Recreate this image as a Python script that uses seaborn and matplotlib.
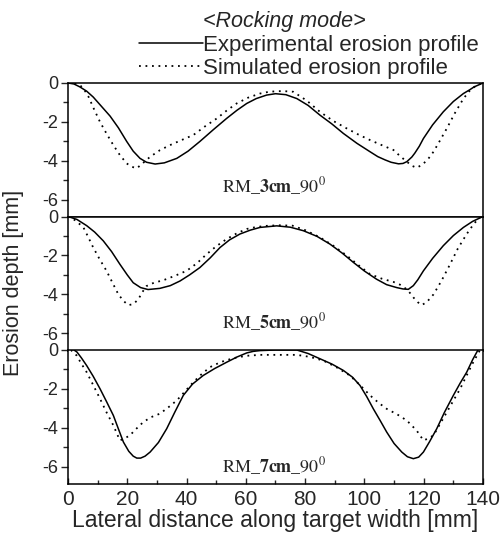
import numpy as np
import matplotlib
matplotlib.use('Agg')
import matplotlib.pyplot as plt
from matplotlib.ticker import MultipleLocator
import seaborn as sns

# erosion profiles, x in mm, depth in mm
# RM_3cm
exp3_x = [0, 2, 4, 6.3, 8.5, 11, 14.2, 17, 19.8, 22, 24.3, 26.5, 29.4, 32.5, 36.7, 40.5, 44.5, 49,
          53.5, 57, 60.3, 63.5, 67, 70, 73.5, 77.2, 81, 85, 89, 92.9, 97.5, 101.9, 104.5, 107, 109,
          111.5, 113, 114.3, 116, 117, 118.5, 119.9, 123, 126.6, 130, 133.4, 135.5, 137, 140]
exp3_y = [0, -0.05, -0.2, -0.42, -0.72, -1.15, -1.7, -2.3, -3.0, -3.5, -3.87, -4.07, -4.16, -4.1,
          -3.87, -3.5, -3.0, -2.4, -1.82, -1.4, -1.05, -0.8, -0.62, -0.55, -0.6, -0.8, -1.15, -1.65,
          -2.1, -2.59, -3.1, -3.53, -3.78, -3.95, -4.07, -4.15, -4.13, -4.04, -3.8, -3.6, -3.25,
          -2.85, -2.15, -1.48, -0.95, -0.54, -0.35, -0.2, 0]
sim3_x = [0, 2, 4, 5.5, 6.9, 8.8, 10.8, 13, 15.3, 17.5, 19.8, 21.5, 23.2, 25, 27.7, 31, 34.4, 38,
          42.3, 46, 50.2, 53.5, 56.9, 60.8, 64.8, 67.5, 70.4, 73, 76, 80.5, 85, 89.5, 94, 98, 101.9,
          106, 109.8, 112, 114.3, 116, 117.6, 119.5, 121.5, 123.3, 125.5, 127.8, 130.5, 133.4,
          135.5, 137.9, 140]
sim3_y = [0, -0.02, -0.1, -0.35, -0.7, -1.35, -2.0, -2.6, -3.19, -3.7, -4.13, -4.3, -4.38, -4.15,
          -3.79, -3.45, -3.19, -2.95, -2.67, -2.25, -1.82, -1.42, -1.05, -0.75, -0.54, -0.46, -0.42,
          -0.42, -0.45, -0.9, -1.48, -1.95, -2.33, -2.65, -2.93, -3.2, -3.44, -3.75, -4.04, -4.25,
          -4.35, -4.2, -3.9, -3.53, -2.95, -2.33, -1.55, -0.8, -0.4, -0.1, 0]

# RM_5cm
exp5_x = [0, 3, 6.3, 9, 11.9, 14.7, 17.5, 20, 22, 24.5, 27, 31, 34.5, 37.8, 41, 44.5, 48, 51.3,
          54.5, 58, 61.5, 64.8, 70.4, 75, 79.4, 84, 88.4, 92.5, 96.3, 100, 104.1, 107.5, 110.9, 113,
          114.8, 116.5, 118, 119.9, 123, 126.6, 130, 133.4, 136.5, 140]
exp5_y = [0, -0.15, -0.47, -0.8, -1.25, -1.8, -2.45, -3.0, -3.4, -3.65, -3.75, -3.69, -3.55, -3.31,
          -3.0, -2.62, -2.12, -1.59, -1.2, -0.9, -0.7, -0.56, -0.48, -0.55, -0.73, -1.02, -1.42,
          -1.88, -2.36, -2.8, -3.22, -3.5, -3.65, -3.72, -3.74, -3.55, -3.25, -2.79, -2.15, -1.5,
          -0.98, -0.56, -0.25, 0]
sim5_x = [0, 2.5, 5.2, 6.8, 8.5, 10.7, 13, 15, 17, 18.8, 20.4, 22, 23.7, 25, 26.5, 29, 32.2, 36, 40,
          43.5, 46.8, 50, 53.5, 57, 60.3, 63.5, 67, 71, 75.7, 80, 85, 89.5, 94, 98, 101.9, 106, 109.8,
          112, 114.3, 115.5, 116.6, 118, 119.3, 121, 123.3, 126, 128.9, 131.5, 134.5, 136.8, 138.8,
          140]
sim5_y = [0, -0.2, -0.56, -1.05, -1.59, -2.2, -2.79, -3.4, -4.0, -4.35, -4.55, -4.5, -4.26, -3.9,
          -3.57, -3.4, -3.27, -3.05, -2.79, -2.4, -1.93, -1.53, -1.16, -0.86, -0.64, -0.54, -0.48,
          -0.45, -0.47, -0.7, -1.07, -1.5, -2.0, -2.5, -2.96, -3.2, -3.36, -3.5, -3.74, -3.95, -4.17,
          -4.4, -4.55, -4.4, -4.0, -3.3, -2.45, -1.65, -0.9, -0.4, -0.05, 0]

# RM_7cm
exp7_x = [2, 3, 4.5, 6.3, 8.5, 10.8, 13, 15.3, 17, 18.7, 20.5, 22, 23.2, 24.5, 26, 27.7, 30.5, 33.3,
          36, 38.9, 42, 45.6, 49.5, 53.5, 57, 60.3, 62.5, 64.8, 70, 77.2, 81, 85, 89, 92.9, 96, 98.5,
          100.8, 103, 105.3, 107.5, 110, 112.6, 114.5, 116.5, 118.3, 119.9, 122, 124.4, 127, 130,
          132.3, 134.5, 136.5, 138.3]
exp7_y = [0, -0.1, -0.4, -0.8, -1.35, -1.99, -2.65, -3.36, -4.05, -4.73, -5.2, -5.45, -5.55, -5.55,
          -5.45, -5.24, -4.75, -4.04, -3.2, -2.33, -1.75, -1.31, -0.95, -0.63, -0.36, -0.15, -0.07,
          -0.03, 0, 0, -0.18, -0.45, -0.72, -1.05, -1.4, -1.82, -2.4, -3.02, -3.62, -4.21, -4.8,
          -5.24, -5.48, -5.58, -5.5, -5.24, -4.7, -4.04, -3.2, -2.33, -1.7, -1.14, -0.5, 0]
sim7_x = [1, 2.9, 4.5, 6.3, 8.5, 10.8, 13, 15.3, 17.5, 19, 20.9, 23, 25.4, 28, 31, 33.8, 36.7, 39.5,
          42.3, 45, 47.9, 51.5, 55.8, 60, 64.8, 70.4, 77.2, 81.5, 86.1, 90.5, 95.1, 98.5, 101.9,
          104.7, 107.5, 111, 114.3, 117.6, 119.9, 121.5, 123.3, 125.5, 127.8, 130, 132.3, 134.5,
          136.7, 139]
sim7_y = [0, -0.28, -0.7, -1.14, -1.8, -2.5, -3.2, -3.87, -4.64, -4.55, -4.38, -4.05, -3.7, -3.45,
          -3.27, -2.95, -2.59, -2.12, -1.65, -1.25, -0.88, -0.62, -0.42, -0.3, -0.25, -0.25, -0.25,
          -0.35, -0.54, -0.88, -1.31, -1.8, -2.33, -2.7, -3.02, -3.3, -3.62, -4.13, -4.64, -4.55,
          -4.38, -3.8, -3.19, -2.6, -1.99, -1.3, -0.63, 0]

panels = [
    ('3cm', exp3_x, exp3_y, sim3_x, sim3_y, -5.3),
    ('5cm', exp5_x, exp5_y, sim5_x, sim5_y, -5.4),
    ('7cm', exp7_x, exp7_y, sim7_x, sim7_y, -5.95),
]

sns.set_style('ticks')
plt.rcParams['font.family'] = ['Liberation Sans', 'DejaVu Sans']
plt.rcParams['axes.unicode_minus'] = False
plt.rcParams['mathtext.fontset'] = 'stix'

fig = plt.figure(figsize=(5.02, 5.49), dpi=100)
W, H = 502, 549
left, right = 68, 483
tops = [83, 216.5, 350]
ph = 134

dots = (0, (1, 2.6))
axes = []
for i, (name, ex, ey, sx, sy, ly) in enumerate(panels):
    ax = fig.add_axes([left / W, 1 - (tops[i] + ph) / H, (right - left) / W, ph / H])
    sns.lineplot(x=ex, y=ey, ax=ax, color='k', lw=1.1, label='Experimental erosion profile')
    sns.lineplot(x=sx, y=sy, ax=ax, color='k', lw=1.3, linestyle=dots,
                 label='Simulated erosion profile')
    ax.get_legend().remove()
    ax.set_xlim(0, 140)
    ax.set_ylim(-6.88, 0)
    ax.yaxis.set_minor_locator(MultipleLocator(1))
    ax.set_yticks([0, -2, -4, -6])
    ax.tick_params(axis='y', which='major', direction='out', length=5, width=1, labelsize=13, pad=2)
    ax.tick_params(axis='y', which='minor', direction='out', length=3.5, width=1)
    for s in ax.spines.values():
        s.set_visible(True)
        s.set_linewidth(1.1)
        s.set_color('k')
    ax.text(69.5, ly, r'$\mathrm{RM\_}\mathbf{' + name + r'}\mathrm{\_90}^{0}$',
            ha='center', va='center', fontsize=13)
    if i < 2:
        ax.tick_params(axis='x', which='both', bottom=False, labelbottom=False)
    else:
        ax.xaxis.set_major_locator(MultipleLocator(20))
        ax.xaxis.set_minor_locator(MultipleLocator(10))
        ax.tick_params(axis='x', which='major', direction='in', length=4.5, width=1,
                       labelsize=15, pad=4)
        ax.tick_params(axis='x', which='minor', direction='in', length=3, width=1)
        ax.set_xlabel('Lateral distance along target width [mm]', fontsize=16.5, labelpad=0)
    ax.set_ylabel('')
    axes.append(ax)

fig.text(14 / W, 1 - 283 / H, 'Erosion depth [mm]', rotation=90, ha='center', va='center',
         fontsize=15.5)

fig.text(203 / W, 1 - 22 / H, '<Rocking mode>', style='italic', ha='left', va='center',
         fontsize=15.5)
handles, labels = axes[0].get_legend_handles_labels()
fig.legend(handles, labels, loc='upper left', bbox_to_anchor=(139 / W, 1 - 35 / H),
           frameon=False, fontsize=16, handlelength=2.9, handletextpad=0.0,
           labelspacing=0.1, borderpad=0, borderaxespad=0)

fig.savefig('out.png', dpi=100)
